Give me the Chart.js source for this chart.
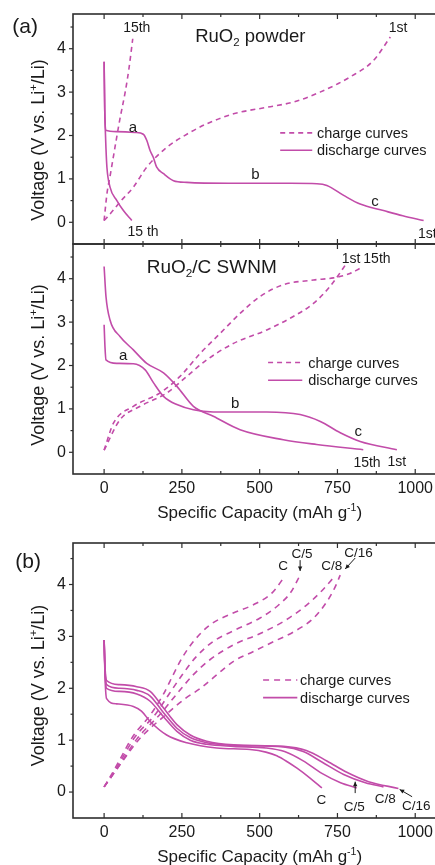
<!DOCTYPE html>
<html>
<head>
<meta charset="utf-8">
<title>RuO2 voltage profiles</title>
<script src="https://cdn.jsdelivr.net/npm/chart.js@4.4.1/dist/chart.umd.min.js"></script>
<style>
  html, body { margin: 0; padding: 0; background: #fff; overflow: hidden; }
  #wrap { position: relative; width: 435px; height: 865px; overflow: hidden; }
  canvas { position: absolute; left: 0; }
</style>
</head>
<body>
<div id="wrap">
  <canvas id="chartPowder" width="438" height="250" style="top:0px"></canvas>
  <canvas id="chartSwnm" width="438" height="300" style="top:230px"></canvas>
  <canvas id="chartRate" width="438" height="335" style="top:530px"></canvas>
</div>
<script>
// --- axis ticks ---
const capTicks = [0, 250, 500, 750, 1000];
const capMinor = [125, 375, 625, 875];
const voltTicks = [0, 1, 2, 3, 4];
const voltMinor = [0.5, 1.5, 2.5, 3.5, 4.5];

// --- (a) RuO2 powder: [capacity mAh/g, voltage V] ---
const powderDischarge1st = [[0,3.7],[2,2.6],[5,2.12],[40,2.09],[100,2.07],[126,2.03],[137,1.89],[148,1.65],[158,1.5],[169,1.27],[191,1.12],[223,0.96],[266,0.92],[400,0.9],[600,0.9],[684,0.89],[716,0.85],[770,0.62],[823,0.42],[898,0.27],[960,0.15],[1027,0.04]];
const powderDischarge15th = [[0,3.7],[2,2.6],[4,2.1],[6,1.7],[9,1.27],[19,0.81],[41,0.5],[62,0.27],[89,0.04]];
const powderCharge1st = [[0,0.04],[19,0.19],[55,0.5],[94,0.81],[137,1.27],[202,1.73],[266,2.03],[330,2.27],[416,2.5],[523,2.65],[608,2.77],[694,3.0],[791,3.35],[866,3.73],[920,4.27]];
const powderCharge15th = [[0,0.04],[9,0.65],[20,1.1],[35,1.73],[50,2.35],[67,2.97],[80,3.55],[92,4.23]];

// --- (a) RuO2/C SWNM ---
const swnmDischarge1st = [[0,2.94],[3,2.4],[6,2.13],[41,2.05],[94,2.04],[132,1.9],[159,1.6],[191,1.29],[234,1.1],[287,0.98],[351,0.93],[523,0.93],[630,0.87],[695,0.71],[759,0.45],[823,0.25],[941,0.06]];
const swnmDischarge15th = [[0,4.28],[6,3.59],[19,3.05],[51,2.67],[94,2.36],[137,2.05],[191,1.83],[234,1.52],[287,1.06],[351,0.83],[437,0.52],[576,0.29],[683,0.18],[833,0.06]];
const swnmCharge1st = [[0,0.05],[51,0.75],[116,1.06],[202,1.37],[266,1.75],[330,2.13],[416,2.51],[523,2.82],[608,3.13],[673,3.43],[726,3.82],[750,4.05],[775,4.31]];
const swnmCharge15th = [[0,0.05],[30,0.67],[94,1.06],[180,1.37],[244,1.75],[309,2.28],[373,2.74],[437,3.2],[501,3.59],[576,3.86],[673,3.97],[737,4.02],[790,4.12],[823,4.24]];

// --- (b) rate capability: C, C/5, C/8, C/16 ---
const rateChargeC = [[0,0.1],[25,0.35],[50,0.62],[90,1.05],[150,1.5],[190,1.88],[222,2.26],[250,2.58],[287,2.9],[340,3.22],[415,3.45],[480,3.61],[540,3.84],[580,4.15]];
const rateChargeC5 = [[0,0.1],[28,0.35],[55,0.62],[98,1.05],[165,1.5],[210,1.9],[250,2.25],[295,2.6],[350,2.9],[420,3.12],[500,3.35],[560,3.6],[600,3.85],[630,4.18]];
const rateChargeC8 = [[0,0.1],[30,0.35],[58,0.6],[105,1.02],[180,1.5],[235,1.9],[285,2.25],[340,2.55],[420,2.85],[500,3.05],[580,3.3],[650,3.6],[700,3.88],[737,4.13]];
const rateChargeC16 = [[0,0.1],[30,0.35],[60,0.6],[110,1.0],[200,1.5],[260,1.8],[310,2.0],[362,2.26],[416,2.52],[480,2.71],[545,2.9],[610,3.09],[673,3.35],[716,3.67],[740,3.92],[759,4.18]];
const rateDischargeC = [[0,2.93],[3,2.2],[8,1.8],[40,1.7],[94,1.65],[120,1.56],[148,1.36],[201,1.1],[266,0.95],[362,0.85],[469,0.82],[520,0.77],[555,0.7],[590,0.58],[620,0.46],[662,0.27],[700,0.08]];
const rateDischargeC5 = [[0,2.93],[3,2.3],[8,2.0],[50,1.94],[105,1.89],[148,1.75],[191,1.45],[234,1.17],[277,1.0],[330,0.92],[416,0.88],[520,0.85],[580,0.78],[640,0.6],[700,0.36],[760,0.18],[812,0.08]];
const rateDischargeC8 = [[0,2.93],[3,2.35],[8,2.07],[50,2.0],[105,1.96],[148,1.85],[191,1.53],[234,1.23],[277,1.05],[330,0.95],[416,0.9],[577,0.87],[640,0.78],[700,0.58],[770,0.34],[840,0.18],[898,0.1]];
const rateDischargeC16 = [[0,2.93],[3,2.4],[8,2.15],[50,2.07],[105,2.03],[148,1.94],[191,1.62],[234,1.3],[277,1.1],[330,0.98],[416,0.91],[577,0.88],[650,0.8],[716,0.6],[780,0.38],[850,0.2],[946,0.07]];

const LINE = '#c24ca9';
const AXIS = '#2e2e2e';
const TEXT = '#1a1a1a';
const FONT = '"Liberation Sans", Arial, Helvetica, sans-serif';

Chart.defaults.font.family = FONT;
Chart.defaults.color = TEXT;

function series(points, dashed) {
  return {
    data: points.map(p => ({ x: p[0], y: p[1] })),
    borderColor: LINE,
    borderWidth: 1.6,
    borderDash: dashed || [],
    pointRadius: 0,
    fill: false,
    cubicInterpolationMode: 'monotone'
  };
}

// mixed text: parts = [[text, ''|'sup'|'sub'], ...]
function drawRich(ctx, cx, cy, parts, size, align) {
  const small = size * 0.62;
  let w = 0;
  parts.forEach(p => {
    ctx.font = (p[1] ? small : size) + 'px ' + FONT;
    w += ctx.measureText(p[0]).width;
  });
  let x = align === 'left' ? cx : cx - w / 2;
  const base = cy + size * 0.36;
  ctx.textAlign = 'left';
  ctx.textBaseline = 'alphabetic';
  parts.forEach(p => {
    ctx.font = (p[1] ? small : size) + 'px ' + FONT;
    let dy = 0;
    if (p[1] === 'sup') dy = -size * 0.42;
    if (p[1] === 'sub') dy = size * 0.2;
    ctx.fillText(p[0], x, base + dy);
    x += ctx.measureText(p[0]).width;
  });
}

function drawArrow(ctx, x1, y1, x2, y2) {
  const ang = Math.atan2(y2 - y1, x2 - x1);
  ctx.beginPath();
  ctx.moveTo(x1, y1);
  ctx.lineTo(x2, y2);
  ctx.stroke();
  ctx.beginPath();
  ctx.moveTo(x2, y2);
  ctx.lineTo(x2 - 5 * Math.cos(ang - 0.45), y2 - 5 * Math.sin(ang - 0.45));
  ctx.lineTo(x2 - 5 * Math.cos(ang + 0.45), y2 - 5 * Math.sin(ang + 0.45));
  ctx.closePath();
  ctx.fill();
}

// frame, inward x ticks, outward y ticks, labels, legend, axis titles
const decorPlugin = {
  id: 'decor',
  afterDraw(chart, args, o) {
    const { ctx, chartArea: a, scales: { x, y } } = chart;
    ctx.save();
    ctx.strokeStyle = AXIS;
    ctx.lineWidth = 1.6;
    ctx.strokeRect(a.left, a.top, a.right - a.left, a.bottom - a.top);

    ctx.lineWidth = 1.2;
    const xt = (v, len) => {
      const px = x.getPixelForValue(v);
      ctx.beginPath();
      ctx.moveTo(px, a.bottom); ctx.lineTo(px, a.bottom - len);
      ctx.moveTo(px, a.top); ctx.lineTo(px, a.top + len);
      ctx.stroke();
    };
    capTicks.forEach(v => xt(v, 5));
    capMinor.forEach(v => xt(v, 3));
    const yt = (v, len) => {
      const py = y.getPixelForValue(v);
      ctx.beginPath();
      ctx.moveTo(a.left, py); ctx.lineTo(a.left - len, py);
      ctx.stroke();
    };
    voltTicks.forEach(v => yt(v, 4));
    voltMinor.forEach(v => yt(v, 2.5));

    // legend
    const lg = o.legend;
    ctx.strokeStyle = LINE;
    ctx.lineWidth = 1.6;
    [[lg.charge, lg.dash, 'charge curves'], [lg.discharge, [], 'discharge curves']].forEach(r => {
      const py = y.getPixelForValue(r[0]);
      ctx.setLineDash(r[1]);
      ctx.beginPath();
      ctx.moveTo(x.getPixelForValue(lg.x0), py);
      ctx.lineTo(x.getPixelForValue(lg.x1), py);
      ctx.stroke();
      ctx.setLineDash([]);
      ctx.fillStyle = TEXT;
      drawRich(ctx, x.getPixelForValue(lg.tx), py, [[r[2], '']], 14.5, 'left');
    });

    // annotations
    ctx.fillStyle = TEXT;
    o.labels.forEach(t => {
      drawRich(ctx, x.getPixelForValue(t.x), y.getPixelForValue(t.y), t.parts, t.size, 'center');
    });
    ctx.strokeStyle = TEXT;
    ctx.lineWidth = 1;
    (o.arrows || []).forEach(r => {
      drawArrow(ctx, x.getPixelForValue(r[0]), y.getPixelForValue(r[1]),
        x.getPixelForValue(r[2]), y.getPixelForValue(r[3]));
    });

    // axis titles
    ctx.save();
    ctx.translate(38, (a.top + a.bottom) / 2 + o.yTitleShift);
    ctx.rotate(-Math.PI / 2);
    drawRich(ctx, 0, 0, [['Voltage (V vs. Li', ''], ['+', 'sup'], ['/Li)', '']], o.yTitleSize, 'center');
    ctx.restore();
    if (o.xTitleY) {
      drawRich(ctx, x.getPixelForValue(500), o.xTitleY,
        [['Specific Capacity (mAh g', ''], ['-1', 'sup'], [')', '']], 17, 'center');
    }
    ctx.restore();
  }
};

function buildChart(id, datasets, cfg) {
  return new Chart(document.getElementById(id), {
    type: 'line',
    data: { datasets },
    options: {
      responsive: false,
      animation: false,
      layout: { padding: cfg.padding },
      plugins: {
        legend: { display: false },
        tooltip: { enabled: false },
        decor: cfg.decor
      },
      scales: {
        x: {
          type: 'linear',
          min: -100,
          max: 1070,
          grid: { display: false, drawTicks: false },
          border: { display: false },
          ticks: {
            display: cfg.showX,
            font: { size: 16 },
            color: TEXT,
            padding: cfg.xPad || 4,
            callback: v => String(v)
          },
          afterBuildTicks: s => { s.ticks = capTicks.map(v => ({ value: v })); },
          afterFit: s => {
            s.height = cfg.xHeight;
            s.paddingLeft = 0;
            s.paddingRight = 0;
          }
        },
        y: {
          type: 'linear',
          min: -0.5,
          max: 4.8,
          grid: { display: false, drawTicks: false },
          border: { display: false },
          ticks: { font: { size: 16 }, color: TEXT, padding: 7 },
          afterBuildTicks: s => { s.ticks = voltTicks.map(v => ({ value: v })); },
          afterFit: s => {
            s.width = 73;
            s.paddingTop = 0;
            s.paddingBottom = 0;
          }
        }
      }
    },
    plugins: [decorPlugin]
  });
}

const dashA = [5, 4];
const dashB = [6, 5];

buildChart('chartPowder', [
  series(powderCharge1st, dashA),
  series(powderCharge15th, dashA),
  series(powderDischarge1st),
  series(powderDischarge15th)
], {
  padding: { top: 14, bottom: 6, left: 0, right: 1 },
  showX: false,
  xHeight: 0,
  decor: {
    yTitleShift: 11,
    yTitleSize: 18,
    legend: { x0: 566, x1: 669, tx: 684, charge: 2.06, discharge: 1.66, dash: dashA },
    labels: [
      { x: -254, y: 4.54, size: 21, parts: [['(a)', '']] },
      { x: 470, y: 4.31, size: 18.5, parts: [['RuO', ''], ['2', 'sub'], [' powder', '']] },
      { x: 105, y: 4.5, size: 14, parts: [['15th', '']] },
      { x: 945, y: 4.5, size: 14, parts: [['1st', '']] },
      { x: 93, y: 2.21, size: 15, parts: [['a', '']] },
      { x: 486, y: 1.12, size: 15, parts: [['b', '']] },
      { x: 871, y: 0.5, size: 15, parts: [['c', '']] },
      { x: 125, y: -0.19, size: 14, parts: [['15 th', '']] },
      { x: 1039, y: -0.24, size: 14, parts: [['1st', '']] }
    ]
  }
});

buildChart('chartSwnm', [
  series(swnmCharge1st, dashA),
  series(swnmCharge15th, dashA),
  series(swnmDischarge1st),
  series(swnmDischarge15th)
], {
  padding: { top: 14, bottom: 0, left: 0, right: 1 },
  showX: true,
  xHeight: 56,
  xPad: 5,
  decor: {
    yTitleShift: 6,
    yTitleSize: 18,
    xTitleY: 282,
    legend: { x0: 527, x1: 637, tx: 656, charge: 2.07, discharge: 1.66, dash: dashA },
    labels: [
      { x: 346, y: 4.28, size: 19, parts: [['RuO', ''], ['2', 'sub'], ['/C SWNM', '']] },
      { x: 794, y: 4.47, size: 14, parts: [['1st', '']] },
      { x: 877, y: 4.47, size: 14, parts: [['15th', '']] },
      { x: 61, y: 2.25, size: 15, parts: [['a', '']] },
      { x: 421, y: 1.15, size: 15, parts: [['b', '']] },
      { x: 817, y: 0.51, size: 15, parts: [['c', '']] },
      { x: 845, y: -0.22, size: 14, parts: [['15th', '']] },
      { x: 941, y: -0.21, size: 14, parts: [['1st', '']] }
    ]
  }
});

buildChart('chartRate', [
  series(rateChargeC, dashB),
  series(rateChargeC5, dashB),
  series(rateChargeC8, dashB),
  series(rateChargeC16, dashB),
  series(rateDischargeC),
  series(rateDischargeC5),
  series(rateDischargeC8),
  series(rateDischargeC16)
], {
  padding: { top: 13, bottom: 0, left: 0, right: 1 },
  showX: true,
  xHeight: 47,
  xPad: 5,
  decor: {
    yTitleShift: 5,
    yTitleSize: 18,
    xTitleY: 326,
    legend: { x0: 511, x1: 621, tx: 630, charge: 2.16, discharge: 1.82, dash: dashB },
    labels: [
      { x: -244, y: 4.47, size: 21, parts: [['(b)', '']] },
      { x: 575, y: 4.38, size: 13.5, parts: [['C', '']] },
      { x: 636, y: 4.6, size: 13.5, parts: [['C/5', '']] },
      { x: 732, y: 4.38, size: 13.5, parts: [['C/8', '']] },
      { x: 818, y: 4.63, size: 13.5, parts: [['C/16', '']] },
      { x: 698, y: -0.14, size: 13.5, parts: [['C', '']] },
      { x: 804, y: -0.27, size: 13.5, parts: [['C/5', '']] },
      { x: 904, y: -0.11, size: 13.5, parts: [['C/8', '']] },
      { x: 1003, y: -0.26, size: 13.5, parts: [['C/16', '']] }
    ],
    arrows: [
      [630, 4.47, 630, 4.26],
      [807, 4.51, 775, 4.3],
      [807, -0.02, 807, 0.2],
      [990, -0.09, 950, 0.05]
    ]
  }
});
</script>
</body>
</html>
